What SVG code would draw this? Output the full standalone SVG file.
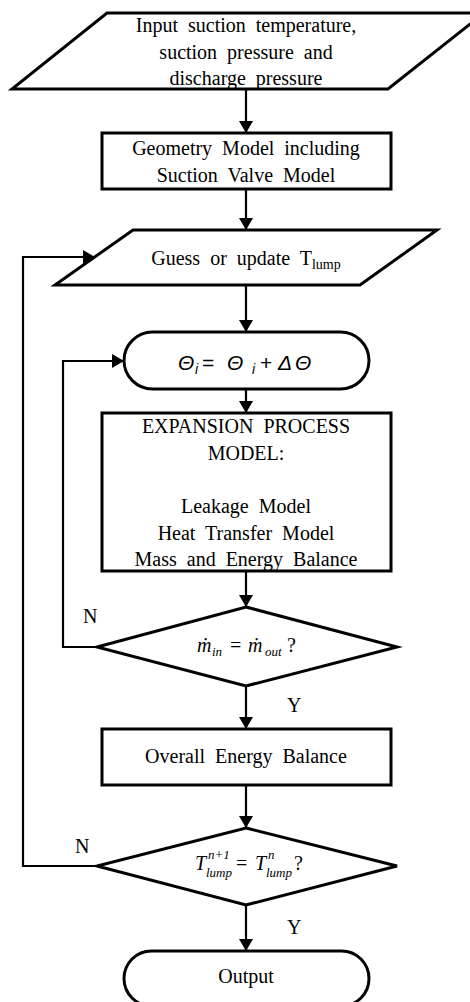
<svg xmlns="http://www.w3.org/2000/svg" width="470" height="1002" viewBox="0 0 470 1002">
<style>
.shape{fill:#fff;stroke:#000;stroke-width:3;stroke-linejoin:miter}
.conn{fill:none;stroke:#000;stroke-width:2.2}
.t{font-family:"Liberation Serif","Times New Roman",serif;font-size:20px;fill:#000;text-anchor:middle;word-spacing:5px}
.lab{font-family:"Liberation Serif","Times New Roman",serif;font-size:20px;fill:#000}
.m{font-family:"Liberation Serif","Times New Roman",serif;font-style:italic;fill:#000}
.s{font-family:"Liberation Sans",Arial,sans-serif;font-style:italic;fill:#000}
</style>
<defs>
<marker id="ah" markerUnits="userSpaceOnUse" markerWidth="13" markerHeight="15" refX="12" refY="7" orient="auto">
<path d="M0,0 L12,7 L0,14 z" fill="#000"/>
</marker>
</defs>
<rect width="470" height="1002" fill="#fff"/>
<g id="connectors">
<line class="conn" x1="246" y1="89" x2="246" y2="133" marker-end="url(#ah)"/>
<line class="conn" x1="246" y1="189" x2="246" y2="230" marker-end="url(#ah)"/>
<line class="conn" x1="246" y1="285" x2="246" y2="332" marker-end="url(#ah)"/>
<line class="conn" x1="246" y1="389" x2="246" y2="413" marker-end="url(#ah)"/>
<line class="conn" x1="246" y1="571" x2="246" y2="607" marker-end="url(#ah)"/>
<line class="conn" x1="246" y1="686" x2="246" y2="729" marker-end="url(#ah)"/>
<line class="conn" x1="246" y1="785" x2="246" y2="828" marker-end="url(#ah)"/>
<line class="conn" x1="246" y1="905" x2="246" y2="951" marker-end="url(#ah)"/>
<polyline class="conn" points="97,647 63,647 63,361 124,361" marker-end="url(#ah)"/>
<polyline class="conn" points="97,866 23,866 23,257 95,257" marker-end="url(#ah)"/>
<text class="lab" x="83" y="623">N</text>
<text class="lab" x="287" y="712">Y</text>
<text class="lab" x="75" y="853">N</text>
<text class="lab" x="287" y="934">Y</text>
</g>
<g id="input">
<polygon class="shape" points="107,13 484,13 388,89 12,89"/>
<text class="t" x="246" y="32">Input suction temperature,</text>
<text class="t" x="246" y="58.5">suction pressure and</text>
<text class="t" x="246" y="85">discharge pressure</text>
</g>
<g id="geometry">
<rect class="shape" x="102" y="133" width="289" height="56"/>
<text class="t" x="246" y="155">Geometry Model including</text>
<text class="t" x="246" y="182">Suction Valve Model</text>
</g>
<g id="guess">
<polygon class="shape" points="133,230 437,230 360,285 55,285"/>
<text class="t" x="246" y="265">Guess or update T<tspan font-size="14" dy="4" word-spacing="0">lump</tspan></text>
</g>
<g id="theta">
<rect class="shape" x="124" y="332" width="245" height="57" rx="28.5" ry="28.5"/>
<text class="s" font-size="21" y="370"><tspan x="178">Θ</tspan><tspan x="195" font-size="14" dy="4">i</tspan><tspan x="202" dy="-4" font-style="normal">=</tspan><tspan x="227">Θ</tspan><tspan x="252" font-size="14" dy="4">i</tspan><tspan x="260" dy="-4" font-style="normal">+</tspan><tspan x="278">Δ</tspan><tspan x="295">Θ</tspan></text>
</g>
<g id="expansion">
<rect class="shape" x="102" y="413" width="289" height="158"/>
<text class="t" x="246" y="433">EXPANSION PROCESS</text>
<text class="t" x="246" y="460">MODEL:</text>
<text class="t" x="246" y="513">Leakage Model</text>
<text class="t" x="246" y="539.5">Heat Transfer  Model</text>
<text class="t" x="246" y="566">Mass and Energy  Balance</text>
</g>
<g id="massCheck">
<polygon class="shape" points="246,607 397,647 246,686 97,647"/>
<text class="m" font-size="20" y="652"><tspan x="197">ṁ</tspan><tspan x="212" font-size="13" dy="4">in</tspan><tspan x="230" dy="-4" font-style="normal">=</tspan><tspan x="248">ṁ</tspan><tspan x="265" font-size="13" dy="4">out</tspan><tspan x="287" dy="-4" font-style="normal">?</tspan></text>
</g>
<g id="overall">
<rect class="shape" x="102" y="729" width="289" height="56"/>
<text class="t" x="246" y="763">Overall Energy Balance</text>
</g>
<g id="tempCheck">
<polygon class="shape" points="246,828 397,866 246,905 97,866"/>
<text class="m" font-size="20"><tspan x="195" y="870">T</tspan><tspan x="208" y="859" font-size="13">n+1</tspan><tspan x="206" y="877" font-size="13">lump</tspan><tspan x="236" y="870" font-style="normal">=</tspan><tspan x="255" y="870">T</tspan><tspan x="268" y="859" font-size="13">n</tspan><tspan x="266" y="877" font-size="13">lump</tspan><tspan x="294" y="870" font-style="normal">?</tspan></text>
</g>
<g id="output">
<rect class="shape" x="124" y="951" width="245" height="55" rx="27.5" ry="27.5"/>
<text class="t" x="246" y="983">Output</text>
</g>
</svg>
